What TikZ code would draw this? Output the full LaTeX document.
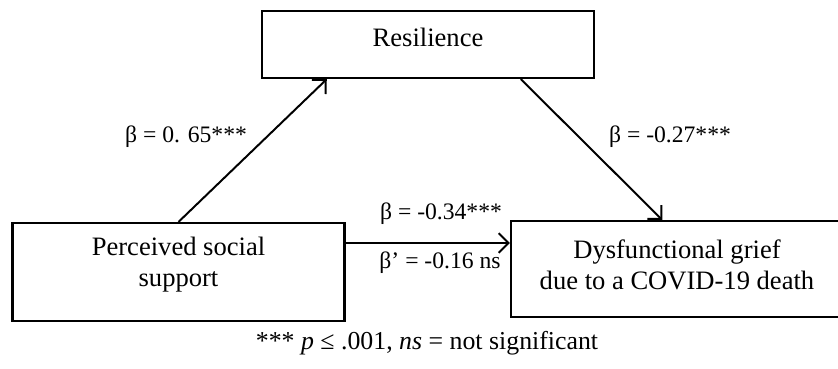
\documentclass[tikz,border=0pt]{standalone}
\usepackage{fontspec}
\setmainfont{Liberation Serif}
\usetikzlibrary{arrows.meta}
\tikzset{var/.style = {draw, line width = 0.9pt, minimum width = 4.74cm, align = center}}
\tikzset{eff/.style = {line width = 0.8pt, -{Straight Barb[length = 4pt, width = 8pt]}}}
\tikzset{coef/.style = {font = \fontsize{9.6}{11.5}\selectfont}}

\begin{document}
\begin{tikzpicture}[font = \fontsize{10.8}{12.8}\selectfont]
    \useasboundingbox (0, 0) rectangle (11.971, 5.257);

    \node [var, minimum height = 0.957cm, text depth = 0.2cm] (res) at (6.114, 4.621) {Resilience};
    \node [var, minimum height = 1.4cm, text depth = 0.3cm] (perc) at (2.55, 1.371) {Perceived social\\support};
    \node [var, minimum height = 1.371cm, text depth = 0.12cm] (grief) at (9.671, 1.414) {Dysfunctional grief\\due to a COVID-19 death};

    \draw [eff] (perc.north) -- ([xshift = 0.94cm]res.south west);
    \draw [eff] ([xshift = -1.06cm]res.south east) -- ([xshift = -0.21cm]grief.north);

    \coordinate (direct) at ([yshift = 0.415cm]perc.east);
    \draw [eff] (direct) -- (direct -| grief.west);

    \node [coef] (ab) at (2.657, 3.3) {β = 0. 65***};
    \node [coef] (bc) at (9.571, 3.3) {β = -0.27***};
    \node [coef] (ac) at (6.3, 2.2) {β = -0.34***};
    \node [coef] (acp) at (6.286, 1.5) {β’ = -0.16 ns};

    \node [font = \fontsize{10.5}{12.5}\selectfont] (note) at (6.1, 0.357) {*** \textit{p} ≤ .001, \textit{ns} = not significant};
\end{tikzpicture}
\end{document}
